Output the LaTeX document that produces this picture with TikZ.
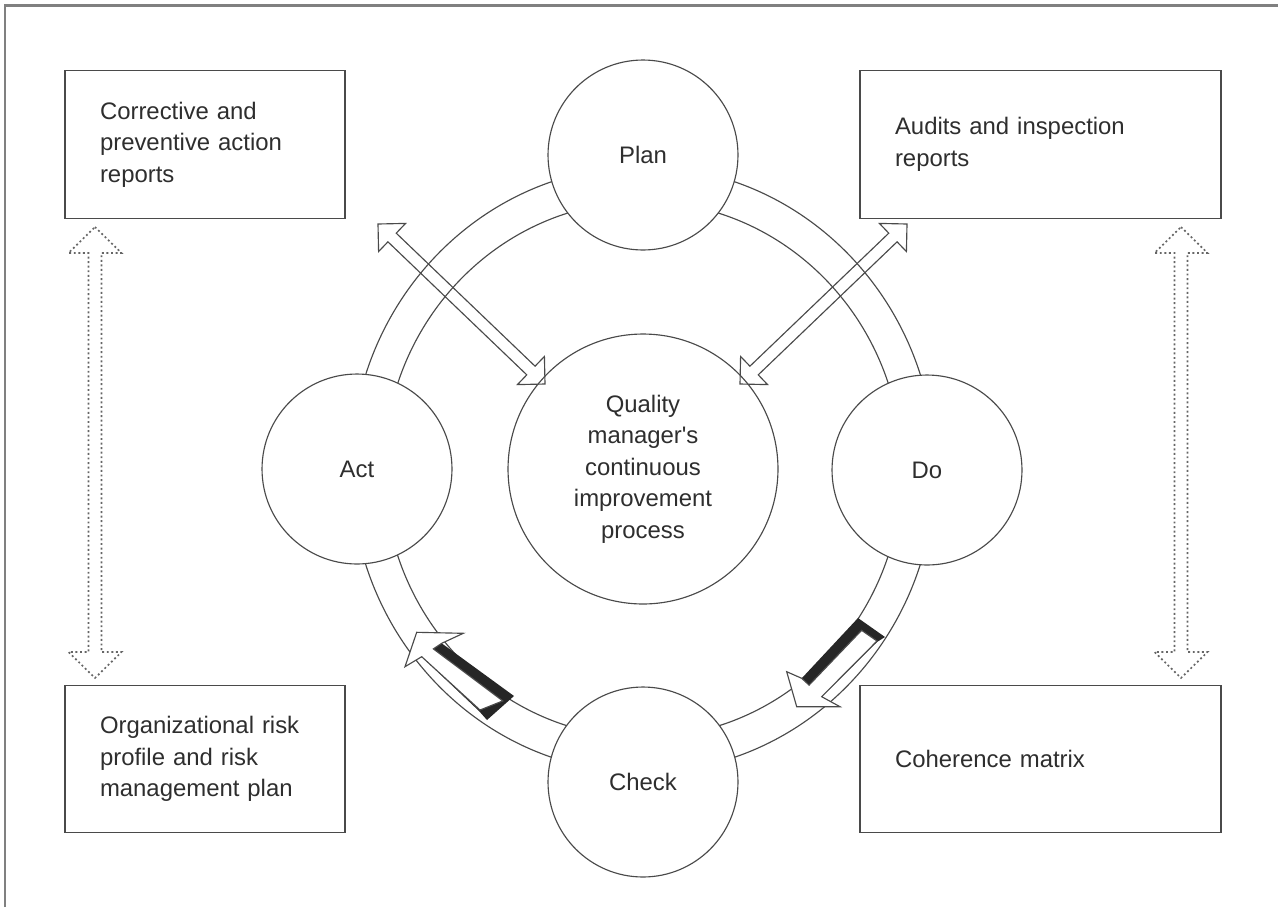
\documentclass[tikz,border=0pt]{standalone}
\usepackage{fontspec}
\setmainfont{Liberation Sans}
\usetikzlibrary{calc}
\definecolor{linegray}{HTML}{4A4A4A}
\definecolor{textgray}{HTML}{2E2E2E}
\definecolor{framegray}{HTML}{808080}
\definecolor{dotgray}{HTML}{666666}
\newcommand{\lbl}{\fontsize{13.6pt}{17.9pt}\selectfont}

\begin{document}
\begin{tikzpicture}[x=0.02cm, y=-0.02cm, line join=miter,
  stage/.style={circle, draw=linegray, fill=white, line width=0.65pt, minimum size=3.8cm, inner sep=0pt, font=\lbl, text=textgray},
  core/.style={stage, minimum size=5.4cm, align=center},
  box/.style={rectangle, draw=linegray, line width=0.8pt, inner xsep=0.7cm, inner ysep=0pt, minimum height=2.95cm, align=left, font=\lbl, text=textgray},
  ringline/.style={draw=linegray, line width=0.65pt},
  hollow/.style n args={3}{to path={
    -- ($(\tikztostart)!#3!(\tikztotarget)!#2!90:(\tikztotarget)$)
    -- ($(\tikztostart)!#3!(\tikztotarget)!#1!90:(\tikztotarget)$)
    -- ($(\tikztotarget)!#3!(\tikztostart)!#1!-90:(\tikztostart)$)
    -- ($(\tikztotarget)!#3!(\tikztostart)!#2!-90:(\tikztostart)$)
    -- (\tikztotarget)
    -- ($(\tikztotarget)!#3!(\tikztostart)!#2!90:(\tikztostart)$)
    -- ($(\tikztotarget)!#3!(\tikztostart)!#1!90:(\tikztostart)$)
    -- ($(\tikztostart)!#3!(\tikztotarget)!#1!-90:(\tikztotarget)$)
    -- ($(\tikztostart)!#3!(\tikztotarget)!#2!-90:(\tikztotarget)$)
    -- cycle}},
  dotdbl/.style={hollow={0.13cm}{0.53cm}{0.52cm}, draw=dotgray, line width=0.95pt, dash pattern=on 1.1pt off 1.5pt},
  opendbl/.style={hollow={0.12cm}{0.39cm}{0.39cm}, draw=linegray, line width=0.65pt},
  turn/.style={fill=white, draw=linegray, line width=0.65pt},
  turnside/.style={fill=black!85}]

\useasboundingbox (0,0) rectangle (1278,907);
\draw[framegray, line width=1.3pt] (5,907) -- (5,5.5) -- (1278,5.5);

% the cycle ring
\draw[ringline] (643,469.5) ellipse [x radius=5.84cm, y radius=6.06cm];
\draw[ringline] (643,469.5) ellipse [x radius=5.18cm, y radius=5.36cm];

\node[core] (qm) at (643,469) {Quality\\manager\textquotesingle s\\continuous\\improvement\\process};
\node[stage] (plan) at (643,155) {Plan};
\node[stage] (do) at (927,470) {Do};
\node[stage] (check) at (643,782) {Check};
\node[stage] (act) at (357,469) {Act};

\node[box, text width=4.2cm] (capa) at (205,144.5) {Corrective and\\preventive action\\reports};
\node[box, text width=5.82cm] (audit) at (1040.5,144.5) {Audits and inspection\\reports};
\node[box, text width=4.2cm] (risk) at (205,759) {Organizational risk\\profile and risk\\management plan};
\node[box, text width=5.82cm] (matrix) at (1040.5,759) {Coherence matrix};

% turn arrows on the ring
\fill[turnside] (441.7,643.3) -- (514,696) -- (487,720) -- (479,711) -- (421.7,656.7) -- cycle;
\filldraw[turn] (416.7,632.3) -- (463.3,633.3) -- (441.7,643.3) -- (433.4,648.9) -- (502.8,700.9) -- (480,710) -- (421.7,656.7) -- (405,666.7) -- cycle;
\fill[turnside] (801.7,678.3) -- (858,618) -- (885,637) -- (877,642) -- (821.7,696.7) -- cycle;
\filldraw[turn] (796.7,706.7) -- (786.7,671.7) -- (801.7,678.3) -- (809.1,685.1) -- (861.6,630.3) -- (877,641) -- (821.7,696.7) -- (840,706.7) -- cycle;

% links
\coordinate (capa end) at (378,224);
\coordinate (qm nw) at (545,384);
\coordinate (audit end) at (907,224);
\coordinate (qm ne) at (740,384);
\coordinate (ltop) at (95,227);
\coordinate (lbot) at (95,678);
\coordinate (rtop) at (1181,227);
\coordinate (rbot) at (1181,678);

\draw[opendbl] (capa end) to (qm nw);
\draw[opendbl] (audit end) to (qm ne);
\draw[dotdbl] (ltop) to (lbot);
\draw[dotdbl] (rtop) to (rbot);
\end{tikzpicture}
\end{document}
